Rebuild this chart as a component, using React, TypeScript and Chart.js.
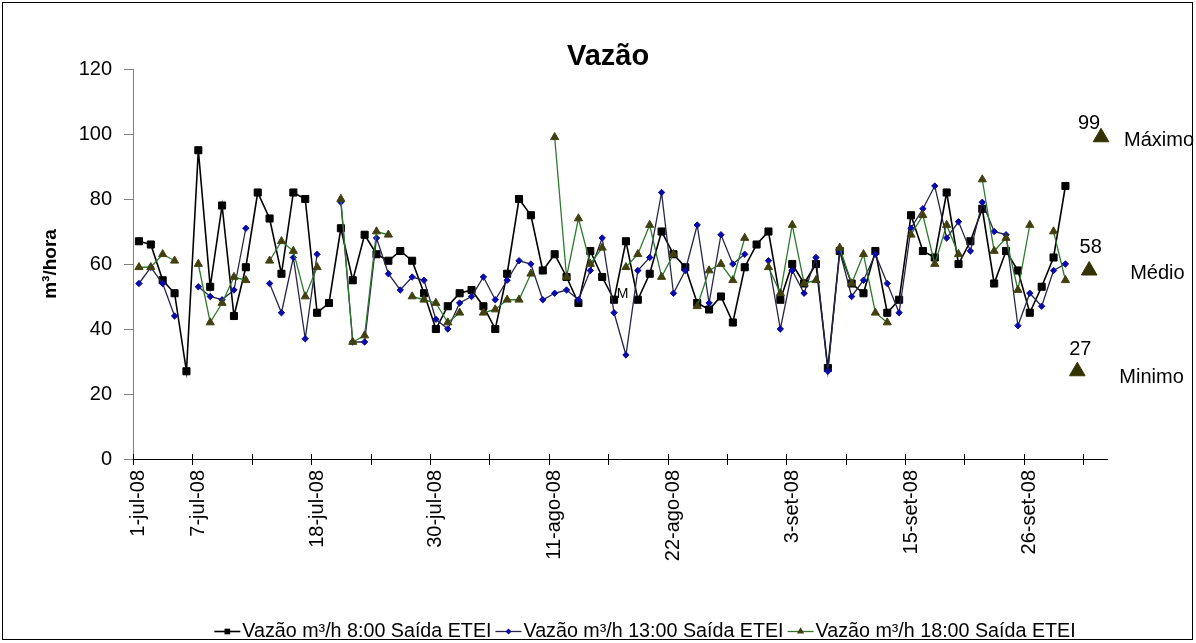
import React, { useEffect, useRef } from 'react';
import { Chart, registerables } from 'chart.js';

Chart.register(...registerables);

const FONT = "'Liberation Sans', Arial, Helvetica, sans-serif";

// ---------------- data ----------------
const categories = [
  '1-jul-08', '2-jul-08', '3-jul-08', '4-jul-08', '5-jul-08', '7-jul-08', '8-jul-08', '9-jul-08', '10-jul-08', '11-jul-08',
  '12-jul-08', '14-jul-08', '15-jul-08', '16-jul-08', '17-jul-08', '18-jul-08', '19-jul-08', '21-jul-08', '22-jul-08', '23-jul-08',
  '24-jul-08', '25-jul-08', '26-jul-08', '28-jul-08', '29-jul-08', '30-jul-08', '31-jul-08', '1-ago-08', '2-ago-08', '4-ago-08',
  '5-ago-08', '6-ago-08', '7-ago-08', '8-ago-08', '9-ago-08', '11-ago-08', '12-ago-08', '13-ago-08', '14-ago-08', '15-ago-08',
  '16-ago-08', '18-ago-08', '19-ago-08', '20-ago-08', '21-ago-08', '22-ago-08', '23-ago-08', '25-ago-08', '26-ago-08', '27-ago-08',
  '28-ago-08', '29-ago-08', '30-ago-08', '1-set-08', '2-set-08', '3-set-08', '4-set-08', '5-set-08', '6-set-08', '8-set-08',
  '9-set-08', '10-set-08', '11-set-08', '12-set-08', '13-set-08', '15-set-08', '16-set-08', '17-set-08', '18-set-08', '19-set-08',
  '20-set-08', '22-set-08', '23-set-08', '24-set-08', '25-set-08', '26-set-08', '27-set-08', '29-set-08', '30-set-08',
  'Minimo', 'Médio', 'Máximo',
];

const shownTickLabels = ['1-jul-08', '7-jul-08', '18-jul-08', '30-jul-08', '11-ago-08', '22-ago-08', '3-set-08', '15-set-08', '26-set-08'];

const seriesNames = ['Vazão m³/h 8:00 Saída ETEI', 'Vazão m³/h 13:00 Saída ETEI', 'Vazão m³/h 18:00 Saída ETEI'];

const flow0800 = [
  67, 66, 55, 51, 27, 95, 53, 78, 44, 59,
  82, 74, 57, 82, 80, 45, 48, 71, 55, 69,
  63, 61, 64, 61, 51, 40, 47, 51, 52, 47,
  40, 57, 80, 75, 58, 63, 56, 48, 64, 56,
  49, 67, 49, 57, 70, 63, 59, 48, 46, 50,
  42, 59, 66, 70, 49, 60, 54, 60, 28, 64,
  54, 51, 64, 45, 49, 75, 64, 62, 82, 60,
  67, 77, 54, 64, 58, 45, 53, 62, 84,
];

const flow1300 = [
  54, 59, 54, 44, null, 53, 50, 49, 52, 71,
  null, 54, 45, 62, 37, 63, null, 79, 36, 36,
  68, 57, 52, 56, 55, 43, 40, 48, 50, 56,
  49, 55, 61, 60, 49, 51, 52, 49, 58, 68,
  45, 32, 58, 62, 82, 51, 58, 72, 48, 69,
  60, 63, null, 61, 40, 58, 51, 62, 27, 64,
  50, 55, 63, 54, 45, 71, 77, 84, 68, 73,
  64, 79, 70, 69, 41, 51, 47, 58, 60,
];

const flow1800 = [
  59, 59, 63, 61, null, 60, 42, 48, 56, 55,
  null, 61, 67, 64, 50, 59, null, 80, 36, 38,
  70, 69, null, 50, 49, 48, 42, 45, null, 45,
  46, 49, 49, 57, null, 99, 56, 74, 60, 65,
  null, 59, 63, 72, 56, 63, null, 47, 58, 60,
  55, 68, null, 59, 51, 72, 54, 55, null, 65,
  54, 63, 45, 42, null, 69, 75, 60, 72, 63,
  null, 86, 64, 68, 52, 72, null, 70, 55,
];

const extremeLabels = ['Minimo', 'Médio', 'Máximo'];
const extremeValues = [27, 58, 99];

const noteText = 'M';
const noteIndex = 40;

// ---------------- styles ----------------
const valueOffsets = [[3, -22], [1.5, -23], [-12, -14]];
const nameOffsets = [[42, 6.5], [41, 3], [23, 3.5]];
const legendMarkerRadius = [4, 3, 4.2];
const LEGEND_CENTER_X = 645;
const LEGEND_Y = 631;

function marker(ctx: CanvasRenderingContext2D, style: string, x: number, y: number, r: number) {
  ctx.beginPath();
  if (style === 'rect') {
    const s = r * Math.SQRT1_2;
    ctx.rect(x - s, y - s, 2 * s, 2 * s);
  } else if (style === 'rectRot') {
    ctx.moveTo(x - r, y);
    ctx.lineTo(x, y - r);
    ctx.lineTo(x + r, y);
    ctx.lineTo(x, y + r);
    ctx.closePath();
  } else {
    for (let k = 0; k < 3; k++) {
      const a = (k * 2 * Math.PI) / 3;
      const px = x + Math.sin(a) * r;
      const py = y - Math.cos(a) * r;
      if (k === 0) ctx.moveTo(px, py);
      else ctx.lineTo(px, py);
    }
    ctx.closePath();
  }
  ctx.fill();
}

const decorPlugin = {
  id: 'decor',
  afterDraw(chart: any) {
    const { ctx, scales } = chart;
    const x = scales.x;
    const y = scales.y;
    ctx.save();

    // outer border
    ctx.strokeStyle = '#000';
    ctx.lineWidth = 1;
    ctx.strokeRect(2.5, 2.5, 1190, 637);

    // category-axis tick marks crossing the axis every 5 categories
    const half = (x.getPixelForValue(1) - x.getPixelForValue(0)) / 2;
    ctx.beginPath();
    for (let i = 0; i < categories.length; i += 5) {
      const px = Math.round(x.getPixelForValue(i) - half) + 0.5;
      ctx.moveTo(px, y.bottom - 5);
      ctx.lineTo(px, y.bottom + 6);
    }
    ctx.stroke();

    ctx.fillStyle = '#000';
    ctx.textBaseline = 'middle';

    // data labels for min / mean / max
    const meta = chart.getDatasetMeta(3);
    ctx.font = `20px ${FONT}`;
    meta.data.forEach((el: any, i: number) => {
      ctx.textAlign = 'center';
      ctx.fillText(String(extremeValues[i]), el.x + valueOffsets[i][0], el.y + valueOffsets[i][1]);
      ctx.textAlign = 'left';
      ctx.fillText(extremeLabels[i], el.x + nameOffsets[i][0], el.y + nameOffsets[i][1]);
    });

    // stray note text
    const m0 = chart.getDatasetMeta(0).data[noteIndex];
    if (m0) {
      ctx.font = `14px ${FONT}`;
      ctx.textAlign = 'center';
      ctx.fillText(noteText, m0.x + 8.5, m0.y - 6);
    }

    // legend
    ctx.font = `19.7px ${FONT}`;
    const ds = chart.data.datasets.slice(0, 3);
    const symW = 26;
    const gapSym = 2;
    const gapItem = 4;
    const widths = ds.map((d: any) => symW + gapSym + ctx.measureText(d.label).width);
    const total = widths.reduce((a: number, b: number) => a + b, 0) + gapItem * (ds.length - 1);
    let cx = LEGEND_CENTER_X - total / 2;
    ds.forEach((d: any, i: number) => {
      ctx.strokeStyle = d.borderColor;
      ctx.lineWidth = d.borderWidth;
      ctx.beginPath();
      ctx.moveTo(cx, LEGEND_Y + 0.5);
      ctx.lineTo(cx + symW, LEGEND_Y + 0.5);
      ctx.stroke();
      ctx.fillStyle = d.pointBackgroundColor;
      marker(ctx, d.pointStyle, cx + symW / 2, LEGEND_Y + 0.5, legendMarkerRadius[i]);
      ctx.fillStyle = '#000';
      ctx.textAlign = 'left';
      ctx.fillText(d.label, cx + symW + gapSym, LEGEND_Y + 1);
      cx += widths[i] + gapItem;
    });

    ctx.restore();
  },
};

export default function App() {
  const ref = useRef<HTMLCanvasElement>(null);

  useEffect(() => {
    if (!ref.current) return;
    const chart = new Chart(ref.current, {
      type: 'line',
      data: {
        labels: categories,
        datasets: [
          {
            label: seriesNames[0],
            data: flow0800,
            borderColor: '#000000',
            borderWidth: 1.6,
            pointStyle: 'rect',
            pointRadius: 5,
            pointBackgroundColor: '#000000',
            pointBorderColor: '#000000',
            pointBorderWidth: 1,
            tension: 0,
            order: 3,
          },
          {
            label: seriesNames[1],
            data: flow1300,
            borderColor: '#25254a',
            borderWidth: 1.3,
            pointStyle: 'rectRot',
            pointRadius: 3.2,
            pointBackgroundColor: '#0a0aa8',
            pointBorderColor: '#0a0aa8',
            pointBorderWidth: 1,
            tension: 0,
            order: 2,
          },
          {
            label: seriesNames[2],
            data: flow1800,
            borderColor: '#2d7a2d',
            borderWidth: 1.3,
            pointStyle: 'triangle',
            pointRadius: 4.7,
            pointBackgroundColor: '#404010',
            pointBorderColor: '#404010',
            pointBorderWidth: 1,
            tension: 0,
            order: 1,
          },
          {
            label: 'Extremos',
            data: extremeLabels.map((l, i) => ({ x: l, y: extremeValues[i] })),
            showLine: false,
            borderColor: '#333300',
            pointStyle: 'triangle',
            pointRadius: 9,
            pointBackgroundColor: '#333300',
            pointBorderColor: '#333300',
            pointBorderWidth: 1,
            clip: false,
            order: 0,
          },
        ],
      } as any,
      options: {
        animation: false,
        responsive: false,
        maintainAspectRatio: false,
        devicePixelRatio: 1,
        events: [],
        layout: { padding: { left: 0, right: -20, top: 0, bottom: 0 } },
        plugins: {
          legend: { display: false },
          tooltip: { enabled: false },
          title: {
            display: true,
            text: 'Vazão',
            color: '#000',
            font: { family: FONT, size: 29, weight: 'bold', lineHeight: 0.8 },
            padding: { top: 45.4, bottom: 0.4 },
          },
        },
        scales: {
          x: {
            type: 'category',
            offset: true,
            grid: { display: false, drawTicks: false },
            border: { display: true, color: '#000', width: 1 },
            ticks: {
              autoSkip: false,
              minRotation: 90,
              maxRotation: 90,
              padding: 11,
              color: '#000',
              font: { family: FONT, size: 20 },
              callback: (_v: any, index: number) => {
                const l = categories[index];
                return shownTickLabels.includes(l) ? l : '';
              },
            },
            afterFit: (s: any) => {
              s.height = 184;
            },
          },
          y: {
            min: 0,
            max: 120,
            ticks: { stepSize: 20, padding: 12, color: '#000', font: { family: FONT, size: 20 } },
            grid: { display: true, drawOnChartArea: false, drawTicks: true, tickLength: 9, color: '#808080' },
            border: { display: true, color: '#808080', width: 1 },
            title: {
              display: true,
              text: 'm³/hora',
              color: '#000',
              font: { family: FONT, size: 19, weight: 'bold' },
              padding: { top: 39.6, bottom: 0 },
            },
            afterFit: (s: any) => {
              s.width = 133;
            },
          },
          yRight: {
            type: 'linear',
            position: 'right',
            display: true,
            min: 0,
            max: 120,
            grid: { display: false, drawTicks: false },
            border: { display: false },
            ticks: { display: false },
            afterFit: (s: any) => {
              s.width = 109;
            },
          },
        },
      } as any,
      plugins: [decorPlugin],
    });
    return () => chart.destroy();
  }, []);

  return (
    <div style={{ position: 'fixed', left: 0, top: 0, width: 1196, height: 643, background: '#fff', overflow: 'hidden' }}>
      <canvas ref={ref} width={1196} height={643} style={{ display: 'block', width: 1196, height: 643 }} />
    </div>
  );
}
